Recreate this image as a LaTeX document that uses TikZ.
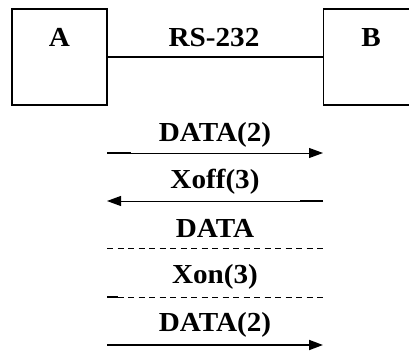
\documentclass[tikz,border=0pt]{standalone}
\usepackage{fontspec}
\setmainfont{Liberation Serif}[FakeStretch=1.06]
\usetikzlibrary{arrows.meta}
\begin{document}
\begin{tikzpicture}[x=1pt,y=1pt,
  lbl/.style={font=\fontsize{27.5}{30}\selectfont\bfseries, inner sep=0pt, anchor=base},
  station/.style={draw, line width=1.4pt, minimum width=95pt, minimum height=96pt, inner sep=0pt},
  msg/.style={line width=1pt, -{Triangle[length=14pt,width=10pt]}},
  stub/.style={line width=2pt},
  dashline/.style={line width=1pt, dash pattern=on 6pt off 4.5pt}]
\useasboundingbox (0,0) rectangle (409,354);
\node[station] (A) at (59.5,297) {};
\node[station] (B) at (371,297) {};
\node[lbl] (la) at (59.5,307) {A};
\node[lbl] (lb) at (371,307) {B};
\draw[line width=1.4pt] (A.east) -- (B.west);
\node[lbl] (lrs) at (214,307) {RS-232};
% message rows
\coordinate (l1) at (107,201); \coordinate (r1) at (323,201);
\coordinate (s1) at (131,201);
\coordinate (l2) at (107,153); \coordinate (r2) at (323,153);
\coordinate (s2) at (300,153);
\coordinate (l3) at (107,106); \coordinate (r3) at (323,106);
\coordinate (l4) at (107,57);  \coordinate (r4) at (323,57);
\coordinate (s4) at (118,57);
\coordinate (l5) at (107,9);   \coordinate (r5) at (323,9);
\node[lbl] (m1) at (215,213) {DATA(2)};
\draw[msg] (l1) -- (r1);
\draw[stub] (l1) -- (s1);
\node[lbl] (m2) at (215,166) {Xoff(3)};
\draw[msg] (r2) -- (l2);
\draw[stub] (s2) -- (r2);
\node[lbl] (m3) at (215,117) {DATA};
\draw[dashline] (l3) -- (r3);
\node[lbl] (m4) at (215,71) {Xon(3)};
\draw[dashline] (l4) -- (r4);
\draw[stub] (l4) -- (s4);
\node[lbl] (m5) at (215,23) {DATA(2)};
\draw[msg, line width=1.8pt] (l5) -- (r5);
\end{tikzpicture}
\end{document}
